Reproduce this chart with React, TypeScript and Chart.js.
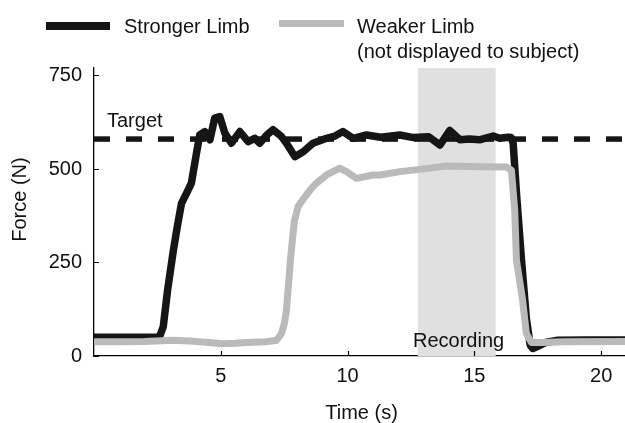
import { useEffect, useRef } from 'react';
import { Chart, registerables } from 'chart.js';

Chart.register(...registerables);

const FONT = '"Liberation Sans", Arial, Helvetica, sans-serif';

const X_MIN = 0;
const X_MAX = 20.94;
const Y_MIN = 0;
const Y_MAX = 770;
const X_TICKS = [5, 10, 15, 20];
const Y_TICKS = [0, 250, 500, 750];

const TARGET = 580;
const RECORDING_START = 12.77;
const RECORDING_END = 15.84;

const strongerTime = [0, 1.0, 2.0, 2.5, 2.6, 2.73, 2.9, 3.12, 3.3, 3.45, 3.65, 3.84, 4.04, 4.17, 4.37, 4.57, 4.76, 4.96, 5.16, 5.42, 5.75, 6.08, 6.34, 6.54, 6.8, 7.06, 7.39, 7.59, 7.92, 8.25, 8.64, 9.17, 9.5, 9.82, 10.22, 10.75, 11.3, 12.06, 12.6, 13.2, 13.64, 14.03, 14.43, 14.8, 15.2, 15.74, 16.0, 16.33, 16.45, 16.53, 16.66, 16.86, 17.05, 17.2, 17.3, 17.5, 17.8, 18.3, 19.5, 21];
const strongerForce = [50, 50, 50, 50, 54, 78, 175, 278, 352, 408, 435, 462, 542, 591, 600, 578, 636, 640, 596, 569, 600, 573, 582, 569, 590, 605, 587, 569, 533, 546, 569, 582, 588, 600, 582, 591, 585, 591, 584, 586, 564, 603, 578, 580, 578, 588, 582, 585, 584, 569, 435, 256, 100, 30, 20, 26, 36, 42, 43, 43];

const weakerTime = [0, 1.0, 2.0, 3.12, 3.78, 4.4, 5.09, 5.6, 6.01, 6.8, 7.2, 7.39, 7.5, 7.59, 7.75, 7.9, 8.05, 8.31, 8.6, 8.77, 9.17, 9.69, 9.96, 10.35, 11.0, 11.27, 12.06, 12.85, 13.9, 15.21, 16.27, 16.46, 16.59, 16.66, 16.9, 17.05, 17.25, 17.7, 18.5, 21];
const weakerForce = [38, 38, 39, 42, 40, 37, 33, 34, 36, 38, 42, 60, 85, 122, 260, 360, 400, 425, 450, 462, 484, 502, 493, 475, 484, 484, 493, 499, 508, 506, 505, 497, 390, 256, 150, 60, 36, 36, 38, 39];

const LEGEND_STRONGER = 'Stronger Limb';
const LEGEND_WEAKER = ['Weaker Limb', '(not displayed to subject)'];
const TARGET_LABEL = 'Target';
const RECORDING_LABEL = 'Recording';
const X_TITLE = 'Time (s)';
const Y_TITLE = 'Force (N)';

const BLACK = '#151515';
const GRAY = '#bababa';
const SHADE = '#e0e0e0';

const overlay = {
  id: 'overlay',
  beforeDatasetsDraw(chart: any) {
    const { ctx, chartArea, scales } = chart;
    const x0 = scales.x.getPixelForValue(RECORDING_START);
    const x1 = scales.x.getPixelForValue(RECORDING_END);
    ctx.save();
    ctx.fillStyle = SHADE;
    ctx.fillRect(x0, chartArea.top, x1 - x0, chartArea.bottom - chartArea.top);
    ctx.restore();
  },
  afterDraw(chart: any) {
    const { ctx, chartArea, scales } = chart;
    ctx.save();
    ctx.strokeStyle = '#000';
    ctx.lineWidth = 1.2;
    ctx.beginPath();
    X_TICKS.forEach((v) => {
      const px = Math.round(scales.x.getPixelForValue(v)) + 0.5;
      ctx.moveTo(px, chartArea.bottom);
      ctx.lineTo(px, chartArea.bottom - 5);
    });
    Y_TICKS.forEach((v) => {
      const py = Math.round(scales.y.getPixelForValue(v)) + 0.5;
      ctx.moveTo(chartArea.left, py);
      ctx.lineTo(chartArea.left + 5, py);
    });
    ctx.stroke();

    ctx.fillStyle = '#111';
    ctx.font = `20px ${FONT}`;
    ctx.textBaseline = 'alphabetic';
    ctx.textAlign = 'left';
    ctx.fillText(TARGET_LABEL, 107, 127);
    ctx.fillText(RECORDING_LABEL, 413, 347);

    ctx.textAlign = 'center';
    ctx.fillText(X_TITLE, 361.5, 419);
    ctx.save();
    ctx.translate(25.5, 199.5);
    ctx.rotate(-Math.PI / 2);
    ctx.fillText(Y_TITLE, 0, 0);
    ctx.restore();

    ctx.lineCap = 'butt';
    ctx.strokeStyle = BLACK;
    ctx.lineWidth = 8;
    ctx.beginPath();
    ctx.moveTo(46, 26);
    ctx.lineTo(110, 26);
    ctx.stroke();
    ctx.strokeStyle = GRAY;
    ctx.lineWidth = 7;
    ctx.beginPath();
    ctx.moveTo(279, 23.5);
    ctx.lineTo(344, 23.5);
    ctx.stroke();
    ctx.textAlign = 'left';
    ctx.fillStyle = '#111';
    ctx.fillText(LEGEND_STRONGER, 124, 33);
    ctx.fillText(LEGEND_WEAKER[0], 357, 33);
    ctx.fillText(LEGEND_WEAKER[1], 357, 58);
    ctx.restore();
  },
};

export default function App() {
  const canvasRef = useRef<HTMLCanvasElement | null>(null);

  useEffect(() => {
    const canvas = canvasRef.current;
    if (!canvas) return;
    const stronger = strongerTime.map((t, i) => ({ x: t, y: strongerForce[i] }));
    const weaker = weakerTime.map((t, i) => ({ x: t, y: weakerForce[i] }));
    const target = [
      { x: X_MIN, y: TARGET },
      { x: X_MAX, y: TARGET },
    ];
    const tickFont = { size: 20, family: FONT };
    const chart = new Chart(canvas, {
      type: 'line',
      data: {
        datasets: [
          {
            label: TARGET_LABEL,
            data: target,
            borderColor: BLACK,
            borderWidth: 5.5,
            borderDash: [16, 16],
            borderCapStyle: 'butt',
            pointRadius: 0,
            order: 3,
          },
          {
            label: LEGEND_STRONGER,
            data: stronger,
            borderColor: BLACK,
            borderWidth: 7.5,
            borderJoinStyle: 'round',
            borderCapStyle: 'round',
            pointRadius: 0,
            tension: 0,
            order: 2,
          },
          {
            label: LEGEND_WEAKER.join(' '),
            data: weaker,
            borderColor: GRAY,
            borderWidth: 7,
            borderJoinStyle: 'round',
            borderCapStyle: 'round',
            pointRadius: 0,
            tension: 0,
            order: 1,
          },
        ],
      },
      options: {
        responsive: false,
        animation: false,
        devicePixelRatio: 1,
        layout: { padding: { top: 68, left: 0, right: 0, bottom: 0 } },
        plugins: { legend: { display: false }, tooltip: { enabled: false } },
        scales: {
          x: {
            type: 'linear',
            min: X_MIN,
            max: X_MAX,
            afterBuildTicks: (s: any) => {
              s.ticks = X_TICKS.map((v) => ({ value: v }));
            },
            afterFit: (s: any) => {
              s.height = 67;
            },
            grid: { display: false, drawTicks: false },
            border: { display: true, color: '#000', width: 1.3 },
            ticks: { color: '#111', font: tickFont, padding: 8, maxRotation: 0, autoSkip: false },
          },
          y: {
            type: 'linear',
            min: Y_MIN,
            max: Y_MAX,
            afterBuildTicks: (s: any) => {
              s.ticks = Y_TICKS.map((v) => ({ value: v }));
            },
            afterFit: (s: any) => {
              s.width = 94;
            },
            grid: { display: false, drawTicks: false },
            border: { display: true, color: '#000', width: 1.3 },
            ticks: { color: '#111', font: tickFont, padding: 12, autoSkip: false },
          },
        },
      },
      plugins: [overlay],
    } as any);
    return () => chart.destroy();
  }, []);

  return (
    <div style={{ position: 'fixed', left: 0, top: 0, width: 625, height: 423, background: '#fff' }}>
      <canvas ref={canvasRef} width={625} height={423} style={{ width: 625, height: 423, display: 'block' }} />
    </div>
  );
}
